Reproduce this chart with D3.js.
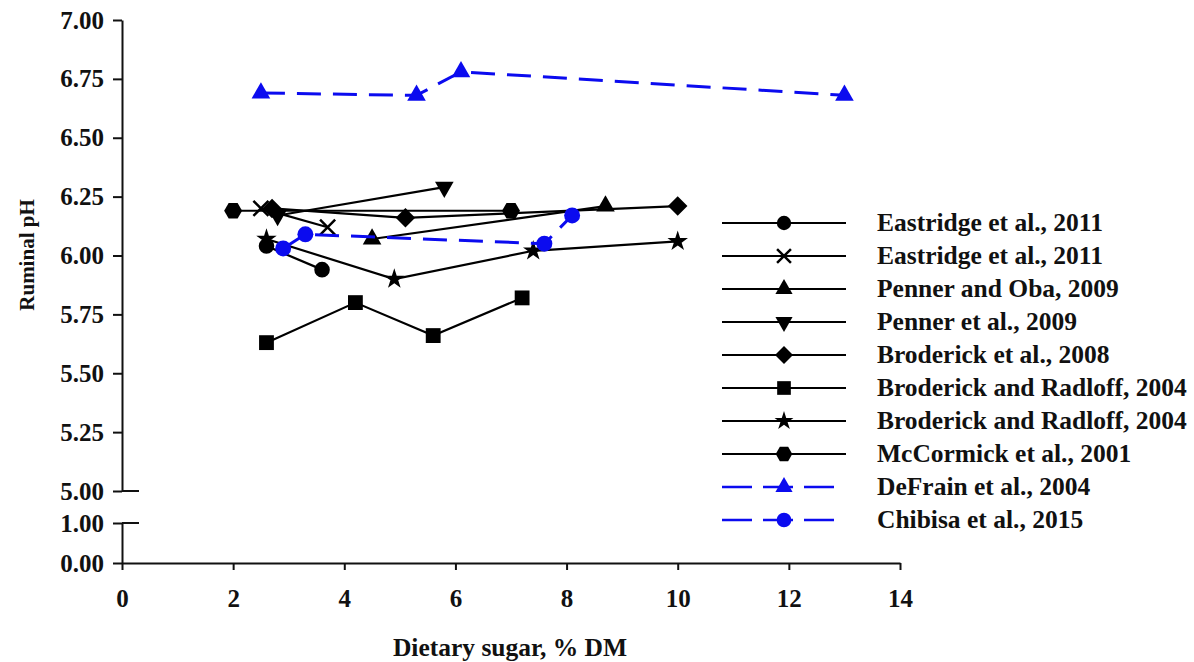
<!DOCTYPE html>
<html>
<head>
<meta charset="utf-8">
<script src="https://cdn.jsdelivr.net/npm/d3@7"></script>
<style>
  html, body { margin: 0; padding: 0; background: #fff; }
  svg { display: block; }
  text { font-family: "Liberation Serif", "Times New Roman", serif; font-weight: bold; fill: #111; }
</style>
</head>
<body>
<svg id="chart" width="1194" height="662"></svg>
<script>
// ── Data ──────────────────────────────────────────────────────────────────
const seriesNames = [
  'Eastridge et al., 2011', 'Eastridge et al., 2011', 'Penner and Oba, 2009',
  'Penner et al., 2009', 'Broderick et al., 2008', 'Broderick and Radloff, 2004',
  'Broderick and Radloff, 2004', 'McCormick et al., 2001', 'DeFrain et al., 2004',
  'Chibisa et al., 2015'
];
const eastridgeCircleX = [2.6, 3.6],  eastridgeCircleY = [6.04, 5.94];
const eastridgeCrossX  = [2.5, 3.7],  eastridgeCrossY  = [6.20, 6.12];
const pennerObaX       = [4.5, 8.7],  pennerObaY       = [6.07, 6.21];
const pennerX          = [2.8, 5.8],  pennerY          = [6.17, 6.29];
const broderickX       = [2.7, 5.1, 10.0], broderickY  = [6.20, 6.16, 6.21];
const radloffSqX       = [2.6, 4.2, 5.6, 7.2], radloffSqY   = [5.63, 5.80, 5.66, 5.82];
const radloffStarX     = [2.6, 4.9, 7.4, 10.0], radloffStarY = [6.07, 5.90, 6.02, 6.06];
const mccormickX       = [2.0, 7.0],  mccormickY       = [6.19, 6.19];
const defrainX         = [2.5, 5.3, 6.1, 13.0], defrainY     = [6.69, 6.68, 6.78, 6.68];
const chibisaX         = [2.9, 3.3, 7.6, 8.1],  chibisaY     = [6.03, 6.09, 6.05, 6.17];

const xTicks = [0, 2, 4, 6, 8, 10, 12, 14];
const yTicksUpper = [5, 5.25, 5.5, 5.75, 6, 6.25, 6.5, 6.75, 7];
const yTicksLower = [0, 1];

// ── Custom hexagon symbol (McCormick) ─────────────────────────────────────
const symbolHex = {
  draw(ctx, size) {
    const r = Math.sqrt(size / (1.5 * Math.sqrt(3)));
    for (let i = 0; i < 6; i++) {
      const a = Math.PI / 3 * i;
      const px = r * Math.cos(a), py = r * Math.sin(a);
      if (i === 0) ctx.moveTo(px, py); else ctx.lineTo(px, py);
    }
    ctx.closePath();
  }
};

const BLUE = '#0b0bef';
const series = [
  { x: eastridgeCircleX, y: eastridgeCircleY, sym: d3.symbolCircle, size: 190, color: '#000' },
  { x: eastridgeCrossX,  y: eastridgeCrossY,  sym: d3.symbolTimes,  size: 150, color: '#000', stroke: true },
  { x: pennerObaX,       y: pennerObaY,       sym: d3.symbolTriangle, size: 150, color: '#000' },
  { x: pennerX,          y: pennerY,          sym: d3.symbolTriangle, size: 150, color: '#000', rot: 180 },
  { x: broderickX,       y: broderickY,       sym: d3.symbolSquare, size: 190, color: '#000', rot: 45 },
  { x: radloffSqX,       y: radloffSqY,       sym: d3.symbolSquare, size: 220, color: '#000' },
  { x: radloffStarX,     y: radloffStarY,     sym: d3.symbolStar,   size: 130, color: '#000' },
  { x: mccormickX,       y: mccormickY,       sym: symbolHex,       size: 210, color: '#000' },
  { x: defrainX,         y: defrainY,         sym: d3.symbolTriangle, size: 150, color: BLUE, dashed: true },
  { x: chibisaX,         y: chibisaY,         sym: d3.symbolCircle, size: 200, color: BLUE, dashed: true },
];
series.forEach((s, i) => s.name = seriesNames[i]);

// ── Scales ────────────────────────────────────────────────────────────────
const svg = d3.select('#chart');
const x = d3.scaleLinear().domain([0, 14]).range([122, 900]);
// broken axis: 0–1 at the bottom, 5–7 above the break
const y = d3.scaleLinear().domain([0, 1, 5, 7]).range([563, 523, 491, 20]);

// ── Axes ──────────────────────────────────────────────────────────────────
const fmt = d3.format('.2f');
const FS = 25;

function styleAxis(g) {
  g.selectAll('path.domain, line').attr('stroke', '#111').attr('stroke-width', 2);
  g.selectAll('text').attr('font-size', FS).attr('fill', '#111')
    .attr('font-family', '"Liberation Serif", serif').attr('font-weight', 'bold');
}

const yAxisUpper = d3.axisLeft(d3.scaleLinear().domain([5, 7]).range([y(5), y(7)]))
  .tickValues(yTicksUpper).tickFormat(fmt).tickSize(9).tickSizeOuter(0).tickPadding(9);
svg.append('g').attr('transform', `translate(${x(0)},0)`).call(yAxisUpper).call(styleAxis);

const yAxisLower = d3.axisLeft(d3.scaleLinear().domain([0, 1]).range([y(0), y(1)]))
  .tickValues(yTicksLower).tickFormat(fmt).tickSize(9).tickSizeOuter(0).tickPadding(9);
svg.append('g').attr('transform', `translate(${x(0)},0)`).call(yAxisLower).call(styleAxis);

// break marks extending right of axis
[5, 1].forEach(v => {
  svg.append('line')
    .attr('x1', x(0)).attr('x2', x(0) + 17)
    .attr('y1', y(v)).attr('y2', y(v))
    .attr('stroke', '#111').attr('stroke-width', 2);
});

const xAxis = d3.axisBottom(x).tickValues(xTicks).tickFormat(d3.format('d'))
  .tickSize(7).tickSizeOuter(0).tickPadding(19);
svg.append('g').attr('transform', `translate(0,${y(0)})`).call(xAxis).call(styleAxis);

// axis titles
svg.append('text')
  .attr('transform', `translate(34,255) rotate(-90)`)
  .attr('text-anchor', 'middle').attr('font-size', 21)
  .text('Ruminal pH');

svg.append('text')
  .attr('x', 510).attr('y', 656)
  .attr('text-anchor', 'middle').attr('font-size', 25.5)
  .text('Dietary sugar, % DM');

// ── Series ────────────────────────────────────────────────────────────────
const plot = svg.append('g');
const line = d3.line().x(d => x(d[0])).y(d => y(d[1]));

function marker(sel, s, scale) {
  sel.append('path')
    .attr('d', d3.symbol().type(s.sym).size(s.size * scale))
    .attr('fill', s.stroke ? 'none' : s.color)
    .attr('stroke', s.color)
    .attr('stroke-width', s.stroke ? 2.5 : 0)
    .attr('transform', s.rot ? `rotate(${s.rot})` : null);
}

series.forEach(s => {
  const pts = s.x.map((v, i) => [v, s.y[i]]);
  plot.append('path')
    .attr('d', line(pts))
    .attr('fill', 'none')
    .attr('stroke', s.color)
    .attr('stroke-width', s.dashed ? 3 : 2.2)
    .attr('stroke-dasharray', s.dashed ? '24,12' : null);
  plot.selectAll(null).data(pts).join('g')
    .attr('transform', d => `translate(${x(d[0])},${y(d[1])})`)
    .each(function () { marker(d3.select(this), s, 1); });
});

// ── Legend ────────────────────────────────────────────────────────────────
const legend = svg.append('g');
const rowY = i => 223 + i * 33;
series.forEach((s, i) => {
  const row = legend.append('g').attr('transform', `translate(0,${rowY(i)})`);
  row.append('line')
    .attr('x1', 722).attr('x2', s.dashed ? 836 : 846)
    .attr('stroke', s.color)
    .attr('stroke-width', s.dashed ? 2.5 : 2.2)
    .attr('stroke-dasharray', s.dashed ? '30,11' : null);
  const m = row.append('g').attr('transform', 'translate(784,0)');
  marker(m, s, 0.85);
  row.append('text')
    .attr('x', 877).attr('dy', '0.33em')
    .attr('font-size', 25.5)
    .text(s.name);
});
</script>
</body>
</html>
